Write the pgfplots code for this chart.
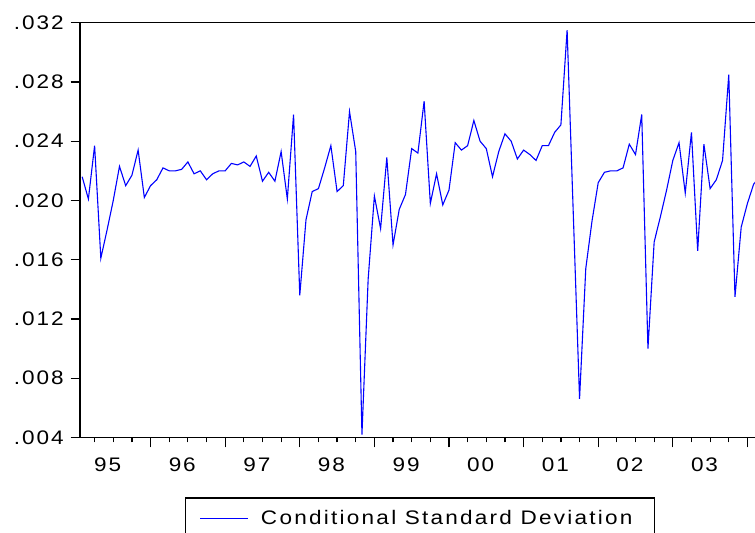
\documentclass[border=0pt]{standalone}
\usepackage{fontspec}
\setmainfont[FakeStretch=1.15, LetterSpace=10]{Liberation Sans}
\newfontfamily\legfont[FakeStretch=1.15, LetterSpace=11.5]{Liberation Sans}
\usepackage{pgfplots}
\pgfplotsset{compat=1.18}
\definecolor{evblue}{RGB}{0,0,255}

\begin{document}
\begin{tikzpicture}[font=\fontsize{9.8}{11}\selectfont]
  \begin{axis}[
    at={(0,0)}, anchor=south west,
    scale only axis,
    width=349.25pt, height=207.4pt,
    xmin=-0.35, xmax=112,
    ymin=0.004, ymax=0.032,
    axis line style={line width=0.6pt},
    tick align=outside,
    xtick pos=left, ytick pos=left,
    % year labels sit between the year ticks
    xtick={4.1,16.1,28.1,40.1,52.1,64.1,76.1,88.1,100.1},
    xticklabels={95,96,97,98,99,00,01,02,03},
    major x tick style={draw=none},
    minor xtick={2,5,...,110},
    minor tick length=2.5pt,
    extra x ticks={11,23,35,47,59,71,83,95,107},
    extra x tick labels={},
    extra x tick style={major tick length=5pt, major x tick style={draw=black, line width=0.6pt}},
    xticklabel style={yshift=-2pt},
    scaled y ticks=false,
    ytick={0.004,0.008,...,0.0321},
    yticklabels={.004,.008,.012,.016,.020,.024,.028,.032},
    major tick length=4.65pt,
    tick style={line width=0.6pt, black},
    /pgf/number format/assume math mode=true,
    legend image code/.code={\draw[#1] (0pt,0pt) -- (24pt,0pt);},
    legend style={at={(0.1503,-0.1442)}, anchor=north west,
      draw=black, line width=0.6pt,
      inner xsep=7.15pt, inner ysep=6.2pt,
      nodes={inner sep=0pt},
      column sep=6pt},
  ]
    \addplot[evblue, line width=0.55pt] coordinates {
      (0,.0216) (1,.0201) (2,.0237) (3,.0161) (4,.0180) (5,.0200)
      (6,.0223) (7,.0210) (8,.0217) (9,.0234) (10,.0202) (11,.0210)
      (12,.0214) (13,.0222) (14,.0220) (15,.0220) (16,.0221) (17,.0226)
      (18,.0218) (19,.0220) (20,.0214) (21,.0218) (22,.0220) (23,.0220)
      (24,.0225) (25,.0224) (26,.0226) (27,.0223) (28,.0230) (29,.0213)
      (30,.0219) (31,.0213) (32,.0233) (33,.0201) (34,.0258) (35,.0136)
      (36,.0187) (37,.0206) (38,.0208) (39,.0222) (40,.0237) (41,.0206)
      (42,.0210) (43,.0260) (44,.0233) (45,.0042) (46,.0147) (47,.0203)
      (48,.0181) (49,.0229) (50,.0170) (51,.0194) (52,.0204) (53,.0235)
      (54,.0232) (55,.0267) (56,.0198) (57,.0218) (58,.0197) (59,.0207)
      (60,.0239) (61,.0234) (62,.0237) (63,.0254) (64,.0240) (65,.0235)
      (66,.0216) (67,.0233) (68,.0245) (69,.0240) (70,.0228) (71,.0234)
      (72,.0231) (73,.0227) (74,.0237) (75,.0237) (76,.0246) (77,.0251)
      (78,.0315) (79,.0190) (80,.0066) (81,.0154) (82,.0186) (83,.0212)
      (84,.0219) (85,.0220) (86,.0220) (87,.0222) (88,.0238) (89,.0231)
      (90,.0258) (91,.0100) (92,.0172) (93,.0189) (94,.0207) (95,.0227)
      (96,.0239) (97,.0205) (98,.0246) (99,.0166) (100,.0238) (101,.0208)
      (102,.0214) (103,.0227) (104,.0285) (105,.0135) (106,.0182) (107,.0198)
      (108,.0211) (109,.0216)
    };
    \addlegendentry{\legfont Conditional Standard Deviation\rule{4pt}{0pt}}
  \end{axis}
  % the reference is cut off on the right and at the bottom
  \pgfresetboundingbox
  \path[use as bounding box] (-40pt,-47.75pt) rectangle (337.5pt,218.75pt);
\end{tikzpicture}
\end{document}
